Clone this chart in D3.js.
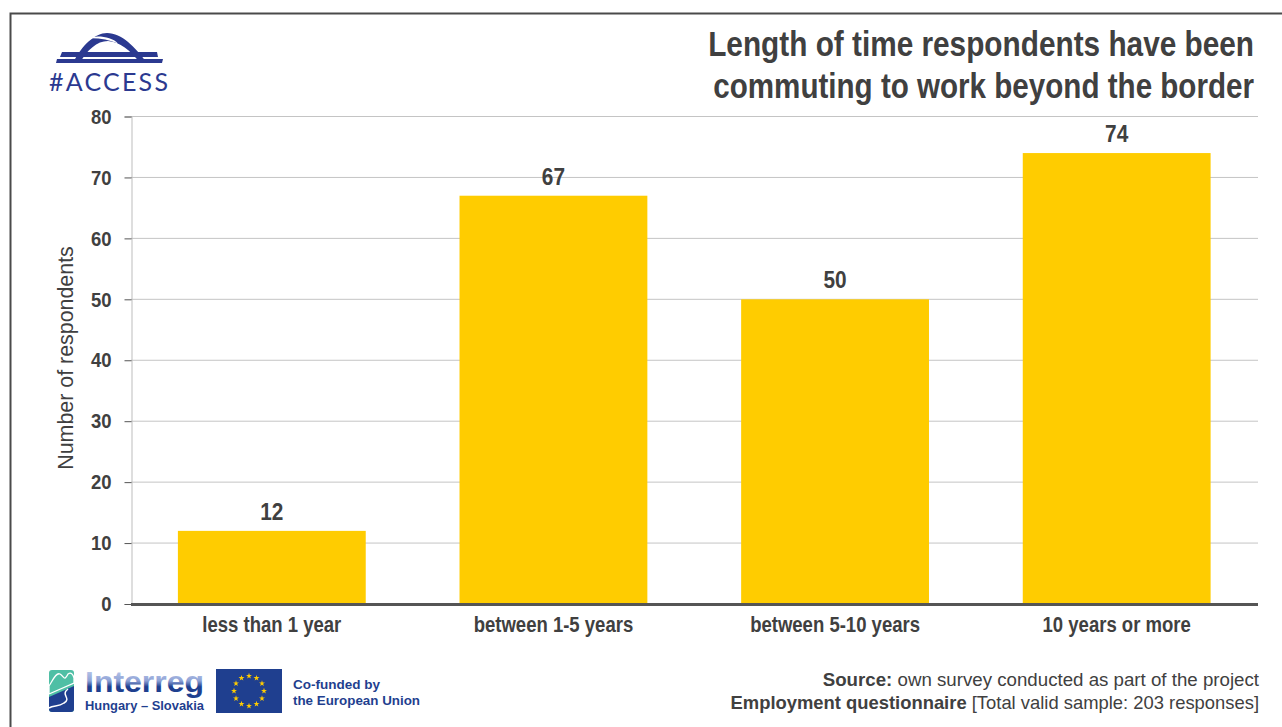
<!DOCTYPE html>
<html>
<head>
<meta charset="utf-8">
<script src="https://cdn.jsdelivr.net/npm/d3@7/dist/d3.min.js"></script>
<style>
html,body{margin:0;padding:0;background:#fff;overflow:hidden}
svg{display:block}
</style>
</head>
<body>
<svg id="chart" width="1282" height="727" font-family="Liberation Sans"></svg>
<script>
const categories = ["less than 1 year", "between 1-5 years", "between 5-10 years", "10 years or more"];
const respondents = [12, 67, 50, 74];
const yTicks = [0, 10, 20, 30, 40, 50, 60, 70, 80];
const titleLines = ["Length of time respondents have been", "commuting to work beyond the border"];
const titleSqueeze = [0.863, 0.858];
const yLabel = "Number of respondents";

const ink = "#404040";
const svg = d3.select("#chart");

// Narrowed bold text, anchored at x and squeezed horizontally by sx
function squeezed(sel, x, y, sx, str, size, anchor, weight, fill) {
  return sel.append("text")
    .attr("transform", `translate(${x},${y}) scale(${sx},1)`)
    .attr("text-anchor", anchor)
    .attr("font-size", size)
    .attr("font-weight", weight)
    .attr("fill", fill)
    .text(str);
}

// Page frame, open to the right and bottom edges
svg.append("path").attr("d", "M10.5,727V13.5H1282").attr("fill", "none").attr("stroke", "#4a4a4a").attr("stroke-width", 2);

const x = d3.scaleBand().domain(categories).range([131, 1257.5]).paddingInner(0.333).paddingOuter(0.1665);
const y = d3.scaleLinear().domain([0, 80]).range([604, 116.5]);

// Horizontal grid
svg.append("g").selectAll("line").data(yTicks.filter(d => d > 0)).join("line")
  .attr("x1", 131).attr("x2", 1258).attr("y1", d => y(d)).attr("y2", d => y(d))
  .attr("stroke", "#c4c4c4").attr("stroke-width", 1);

// Left axis with tick labels
const yAxis = svg.append("g").attr("transform", "translate(131.5,0)")
  .call(d3.axisLeft(y).tickValues(yTicks).tickSize(7).tickPadding(13));
yAxis.select(".domain").attr("stroke", "#bdbdbd").attr("stroke-width", 1);
yAxis.selectAll(".tick line").attr("stroke", "#555");
yAxis.selectAll(".tick text").attr("font-size", 21).attr("font-weight", 700).attr("fill", ink)
  .attr("font-family", "Liberation Sans")
  .attr("textLength", function () { return this.getComputedTextLength() * 0.88; })
  .attr("lengthAdjust", "spacingAndGlyphs");

// Bars
svg.append("g").selectAll("rect").data(respondents).join("rect")
  .attr("x", (d, i) => x(categories[i]))
  .attr("width", x.bandwidth())
  .attr("y", d => y(d))
  .attr("height", d => y(0) - y(d))
  .attr("fill", "#ffcc00");

// Baseline
svg.append("line").attr("x1", 131).attr("x2", 1258).attr("y1", 604.5).attr("y2", 604.5)
  .attr("stroke", "#555").attr("stroke-width", 3);

// Value labels
respondents.forEach((d, i) => {
  squeezed(svg, x(categories[i]) + x.bandwidth() / 2, y(d) - 11, 0.85, d, 24.5, "middle", 700, ink);
});

// Category labels
categories.forEach(c => {
  squeezed(svg, x(c) + x.bandwidth() / 2, 632, 0.85, c, 21.8, "middle", 700, ink);
});

// Title
titleLines.forEach((t, i) => {
  squeezed(svg, 1254, 56 + i * 42, titleSqueeze[i], t, 34.5, "end", 700, ink);
});

// Axis title
svg.append("text").attr("transform", "translate(73,358) rotate(-90)")
  .attr("text-anchor", "middle").attr("font-size", 21.4).attr("fill", ink).text(yLabel);

// Source note
const src1 = svg.append("text").attr("x", 1259).attr("y", 686).attr("text-anchor", "end").attr("font-size", 18.7).attr("fill", ink);
src1.append("tspan").attr("font-weight", 700).text("Source:");
src1.append("tspan").text(" own survey conducted as part of the project");
const src2 = svg.append("text").attr("x", 1259).attr("y", 709).attr("text-anchor", "end").attr("font-size", 18.4).attr("fill", ink);
src2.append("tspan").attr("font-weight", 700).text("Employment questionnaire");
src2.append("tspan").text(" [Total valid sample: 203 responses]");

// #ACCESS bridge emblem
const navy = "#2b3990";
const logo = svg.append("g");
logo.append("path").attr("fill", navy).attr("d", "M62,52 H157 L158,57 H60Z M57,59 H163 L162,63 H56Z");
logo.append("path").attr("fill", navy)
  .attr("d", "M73,63 C82,45 95,33 107,33 C122,33 135,47 147,63 H140 C130,50 120,42 108,41 C97,41 87,50 80,63Z");
logo.append("path").attr("fill", "#fff").attr("d", "M85,38.5 C96,35 111,36 118,43.5 C108,39 96,37.5 85,38.5Z");
logo.append("text").attr("x", 49).attr("y", 91).attr("font-size", 25).attr("fill", navy)
  .attr("font-family", "Lato").attr("textLength", 119).attr("lengthAdjust", "spacing").text("#ACCESS");

// Interreg programme logo
const fade = svg.append("defs").append("linearGradient").attr("id", "interregFade")
  .attr("gradientUnits", "userSpaceOnUse").attr("x1", 0).attr("x2", 0).attr("y1", 670).attr("y2", 697);
fade.append("stop").attr("offset", 0).attr("stop-color", "#bcc8ea");
fade.append("stop").attr("offset", 0.4).attr("stop-color", "#8ea2d6");
fade.append("stop").attr("offset", 0.62).attr("stop-color", "#1f3f8f");

const interreg = svg.append("g");
interreg.append("rect").attr("x", 49).attr("y", 670).attr("width", 25).attr("height", 42).attr("rx", 3).attr("fill", "#4fbfa5");
interreg.append("path").attr("fill", "#1f3f8f").attr("d", "M49,697 L74,686 V709 Q74,712 71,712 H52 Q49,712 49,709Z");
interreg.append("path").attr("fill", "none").attr("stroke", "#fff").attr("stroke-width", 1.3).attr("d", "M49,694 V686 C53,680 56,672 60,674 C64,676 64,682 68,674 C71,672 73,674 74,678 V683 L49,694");
interreg.append("path").attr("fill", "none").attr("stroke", "#fff").attr("stroke-width", 1.5).attr("d", "M68,689 C60,695 72,698 64,703 C58,707 54,705 49,708");
interreg.append("text").attr("x", 85).attr("y", 692).attr("font-size", 30).attr("font-weight", 700).attr("fill", "url(#interregFade)").attr("textLength", 119).attr("lengthAdjust", "spacingAndGlyphs").text("Interreg");
interreg.append("text").attr("x", 85).attr("y", 709.5).attr("font-size", 12).attr("font-weight", 700).attr("fill", "#1f3f8f").attr("textLength", 119).attr("lengthAdjust", "spacingAndGlyphs").text("Hungary – Slovakia");

// EU flag with a ring of twelve stars
const flag = svg.append("g");
flag.append("rect").attr("x", 216).attr("y", 669).attr("width", 66).attr("height", 44).attr("fill", "#1f3f8f");
const star = d3.symbol().type(d3.symbolStar).size(11);
flag.selectAll("path").data(d3.range(12)).join("path").attr("d", star).attr("fill", "#ffcc00")
  .attr("transform", i => { const a = i * Math.PI / 6; return `translate(${249 + 15 * Math.sin(a)},${691 - 15 * Math.cos(a)})`; });

svg.append("text").attr("x", 293).attr("y", 689).attr("font-size", 13).attr("font-weight", 700).attr("fill", "#1f3f8f").attr("textLength", 87).attr("lengthAdjust", "spacingAndGlyphs").text("Co-funded by");
svg.append("text").attr("x", 293).attr("y", 705).attr("font-size", 13).attr("font-weight", 700).attr("fill", "#1f3f8f").attr("textLength", 127).attr("lengthAdjust", "spacingAndGlyphs").text("the European Union");
</script>
</body>
</html>
